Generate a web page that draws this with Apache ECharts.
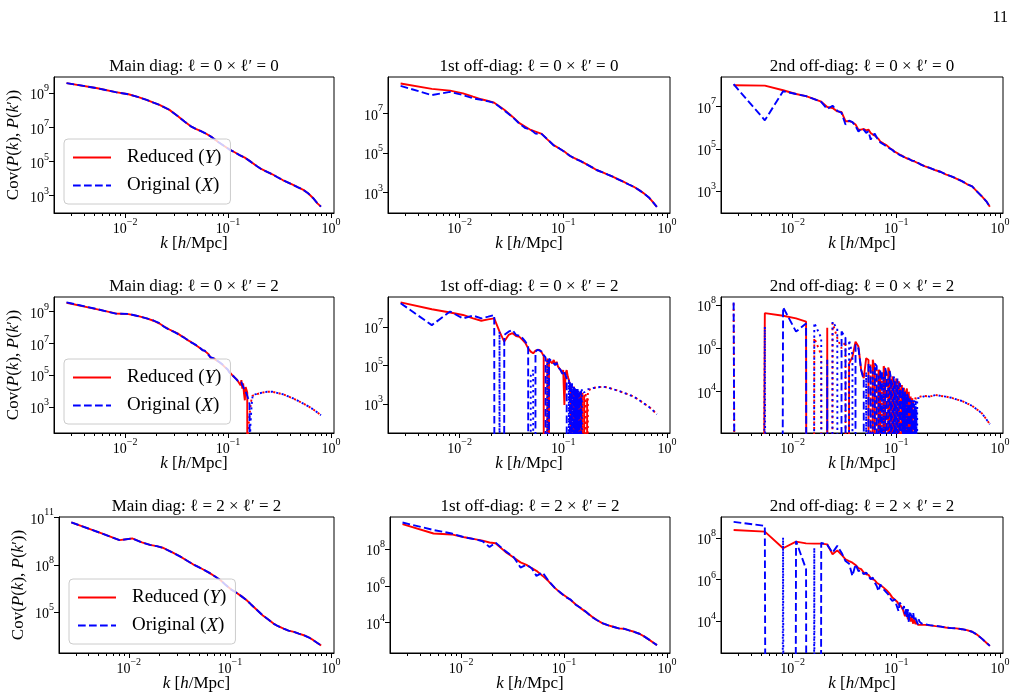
<!DOCTYPE html>
<html lang="en">
<head>
<meta charset="utf-8" />
<title>Cov(P(k), P(k')) comparison</title>
<script src="https://cdn.jsdelivr.net/npm/echarts@6.0.0/dist/echarts.min.js"></script>
<style>
html, body { margin: 0; padding: 0; background: #fff; }
#chart { width: 1022px; height: 695px; }
</style>
</head>
<body>
<div id="chart"></div>
<script type="text/javascript">
// k bins [h/Mpc]
var kCoarse = [0.0027, 0.0054, 0.0081, 0.0108, 0.0135, 0.0162, 0.0189, 0.0216, 0.027, 0.0324,
  0.0378, 0.0432, 0.0486, 0.054, 0.0621, 0.0702, 0.081, 0.0918, 0.1026, 0.1161,
  0.1296, 0.1458, 0.162, 0.19, 0.21, 0.24, 0.27, 0.3, 0.34, 0.38,
  0.43, 0.48, 0.54, 0.6, 0.67, 0.74, 0.8];
var kFine = [0.0027, 0.0054, 0.0081, 0.0108, 0.0135, 0.0162, 0.0189, 0.0216, 0.0243, 0.027,
  0.0297, 0.0324, 0.0351, 0.0378, 0.0405, 0.0432, 0.0459, 0.0486, 0.0513, 0.054,
  0.0567, 0.0594, 0.0621, 0.0648, 0.0675, 0.0702, 0.0729, 0.0756, 0.0783, 0.081,
  0.0837, 0.0864, 0.0891, 0.0918, 0.0945, 0.0972, 0.0999, 0.1026, 0.1053, 0.108,
  0.1107, 0.1134, 0.1161, 0.1188, 0.1215, 0.1242, 0.1269, 0.1296, 0.1323, 0.135,
  0.1377, 0.1404, 0.1431, 0.1458, 0.1485, 0.1512, 0.1539, 0.1566, 0.1593, 0.162,
  0.1647, 0.1674, 0.1701, 0.1728, 0.1755,
  0.19, 0.21, 0.24, 0.27, 0.3, 0.34, 0.38, 0.43, 0.48, 0.54, 0.6, 0.67, 0.74, 0.8];

// tick values
var xMajor = [0.01, 0.1, 1];
var xMinor = [0.003, 0.004, 0.005, 0.006, 0.007, 0.008, 0.009,
  0.02, 0.03, 0.04, 0.05, 0.06, 0.07, 0.08, 0.09,
  0.2, 0.3, 0.4, 0.5, 0.6, 0.7, 0.8, 0.9];

// row 1: l=0 x l'=0  (kCoarse / kFine)
var redA = [3.9e9, 1.95e9, 1.15e9, 8.7e8, 5.9e8, 4.1e8, 2.8e8, 2.1e8, 1.06e8, 4.7e7,
  2.2e7, 1.2e7, 8.2e6, 6.2e6, 4.1e6, 2.6e6, 1.35e6, 8.2e5, 5.2e5, 3.5e5,
  2.4e5, 1.7e5, 1.1e5, 5.5e4, 3.7e4, 2.5e4, 1.8e4, 1.25e4, 8.3e3, 6.1e3,
  4.3e3, 3.1e3, 2.2e3, 1.4e3, 7.4e2, 3.6e2, 2.3e2];
var blueA = [3.9e9, 1.95e9, 1.15e9, 8.7e8, 5.9e8, 4.1e8, 2.8e8, 2.1e8, 1.06e8, 4.7e7,
  2.2e7, 1.2e7, 8.2e6, 6.2e6, 4.1e6, 2.6e6, 1.35e6, 8.2e5, 5.2e5, 3.5e5,
  2.4e5, 1.7e5, 1.1e5, 5.5e4, 3.7e4, 2.5e4, 1.8e4, 1.25e4, 8.3e3, 6.1e3,
  4.3e3, 3.1e3, 2.2e3, 1.4e3, 7.4e2, 3.6e2, 2.3e2];
var redB = [3.2e8, 1.7e8, 1.4e8, 1.02e8, 6.9e7, 5.1e7, 4.2e7, 3.4e7, 1.5e7, 6.8e6,
  3.2e6, 2.1e6, 1.45e6, 1.2e6, 9.2e5, 4.9e5, 2.5e5, 1.7e5, 1.2e5, 7.1e4,
  5.4e4, 4.0e4, 3.0e4, 1.9e4, 1.4e4, 1.07e4, 8.1e3, 6.5e3, 4.7e3, 3.6e3,
  2.6e3, 2.0e3, 1.35e3, 9.3e2, 5.8e2, 3.2e2, 1.95e2];
var blueB = [2.4e8, 8.3e7, 1.2e8, 8.3e7, 5.7e7, 4.8e7, 4.0e7, 3.4e7, 1.4e7, 6.5e6,
  3.0e6, 1.8e6, 1.5e6, 9.5e5, 9.0e5, 5.0e5, 2.4e5, 1.7e5, 1.15e5, 7.3e4,
  5.2e4, 4.0e4, 3.0e4, 1.9e4, 1.4e4, 1.07e4, 8.1e3, 6.5e3, 4.7e3, 3.6e3,
  2.6e3, 2.0e3, 1.35e3, 9.3e2, 5.8e2, 3.2e2, 1.95e2];
var redC = [9.8e7, 9.4e7, 5.7e7, 3.8e7, 3.0e7, 2.2e7, 1.65e7, 9.3e6, 8.3e6, 5.8e6,
  5.4e6, 2.0e6, 2.0e6, 1.8e6, 1.4e6, 8.0e5, 8.0e5, 8.6e5, 7.4e5, 8.0e5,
  5.6e5, 4.7e5, 4.2e5, 3.6e5, 2.9e5, 2.2e5, 1.9e5, 1.75e5, 1.7e5, 1.45e5,
  1.2e5, 1.1e5, 9.8e4, 9.1e4, 8.2e4, 7.1e4, 6.3e4, 6.3e4, 5.7e4, 5.3e4,
  4.8e4, 4.8e4, 4.5e4, 4.2e4, 4.0e4, 3.7e4, 3.6e4, 3.5e4, 3.3e4, 3.1e4,
  3.0e4, 2.9e4, 2.8e4, 2.7e4, 2.6e4, 2.5e4, 2.4e4, 2.3e4, 2.2e4, 2.1e4,
  2.05e4, 2.0e4, 1.9e4, 1.85e4, 1.8e4,
  1.5e4, 1.26e4, 9.8e3, 8.1e3, 6.3e3, 5.1e3, 4.0e3, 3.0e3, 2.2e3, 1.7e3, 1.0e3, 5.8e2, 3.4e2, 1.9e2];
var blueC = [1.1e8, 2.2e6, 5.1e7, 3.8e7, 3.0e7, 2.2e7, 1.6e7, 7.5e6, 1.07e7, 6.2e6,
  4.9e6, 1.4e6, 2.1e6, 1.8e6, 1.2e6, 6.5e5, 8.6e5, 8.0e5, 5.6e5, 6.8e5,
  2.7e5, 4.5e5, 5.1e5, 3.4e5, 2.8e5, 2.0e5, 1.9e5, 1.6e5, 1.75e5, 1.3e5,
  1.25e5, 1.05e5, 1.0e5, 8.8e4, 8.4e4, 6.9e4, 6.5e4, 6.0e4, 5.8e4, 5.1e4,
  4.9e4, 4.6e4, 4.6e4, 4.1e4, 4.1e4, 3.6e4, 3.7e4, 3.4e4, 3.4e4, 3.0e4,
  3.1e4, 2.8e4, 2.9e4, 2.6e4, 2.7e4, 2.4e4, 2.5e4, 2.3e4, 2.25e4, 2.1e4,
  2.1e4, 1.95e4, 1.95e4, 1.8e4, 1.8e4,
  1.5e4, 1.26e4, 9.8e3, 8.1e3, 6.3e3, 5.1e3, 4.0e3, 3.0e3, 2.2e3, 1.7e3, 1.0e3, 5.8e2, 3.4e2, 1.9e2];

// row 2: l=0 x l'=2  (kFine, signed: negative parts drawn dotted)
var redD = [3.7e9, 1.4e9, 7.8e8, 7.1e8, 5.3e8, 3.8e8, 2.7e8, 1.8e8, 1.1e8, 7.6e7,
  5.5e7, 4.3e7, 3.0e7, 2.3e7, 1.6e7, 1.3e7, 1.0e7, 7.8e6, 6.2e6, 4.8e6,
  3.8e6, 3.4e6, 2.6e6, 2.1e6, 1.3e6, 1.3e6, 1.1e6, 9.8e5, 8.1e5, 6.9e5,
  6.0e5, 5.5e5, 4.3e5, 3.7e5, 3.0e5, 2.5e5, 2.1e5, 1.6e5, 1.4e5, 1.15e5,
  9.5e4, 8.7e4, 7.1e4, 6.2e4, 5.4e4, 4.4e4, 3.6e4, 3.0e4, 2.3e4, 4.8e4,
  1.4e4, 3.0e4, 6.9e3, 2.6e3, 1.8e4, 1.2e4, 8.0e3, -30, -1e2, -3e2,
  -8e2, -2e3, -3.5e3, -5e3, -6e3,
  -6.3e3, -7.6e3, -8.9e3, -8.9e3, -7.6e3, -6.3e3, -4.7e3, -3.4e3, -2.4e3, -1.6e3, -1.1e3, -7e2, -4.4e2, -3e2];
var blueD = [3.9e9, 1.45e9, 7.6e8, 7.3e8, 5.2e8, 3.8e8, 2.8e8, 1.9e8, 1.05e8, 7.2e7,
  5.5e7, 4.0e7, 3.0e7, 2.2e7, 1.7e7, 1.2e7, 1.0e7, 8.2e6, 6.0e6, 5.0e6,
  3.7e6, 3.5e6, 2.5e6, 2.2e6, 1.35e6, 1.25e6, 1.15e6, 9.5e5, 8.3e5, 6.7e5,
  6.2e5, 5.3e5, 4.5e5, 3.6e5, 3.1e5, 2.4e5, 2.2e5, 1.55e5, 1.45e5, 1.1e5,
  1.0e5, 8.4e4, 7.4e4, 6.0e4, 5.6e4, 4.6e4, 3.9e4, 4.2e4, 3.0e4, 3.5e4,
  2.4e4, 2.0e4, 1.4e4, 1.1e4, 9.0e3, 7.0e3, 5.0e3, 3.5e3, 2.5e3, 1.5e3,
  -50, -3e2, -1.5e3, -4e3, -6e3,
  -6.3e3, -7.6e3, -8.9e3, -8.9e3, -7.6e3, -6.3e3, -4.7e3, -3.4e3, -2.4e3, -1.6e3, -1.1e3, -7e2, -4.4e2, -3e2];
var redE = [2.0e8, 8.7e7, 5.9e7, 4.4e7, 2.9e7, 2.2e7, 2.6e7, 2.9e7, 5.9e6, 1.8e6,
  4.0e6, 4.9e6, 3.5e6, 3.2e6, 2.2e6, 1.5e6, 8.0e5, 5.4e5, 4.4e5, 6.0e5,
  6.6e5, 6.6e5, 4.8e5, 3.2e5, 2.9e5, -2.5e5, 2.0e5, 2.4e5, 1.3e5, 2.0e5,
  1.07e5, 1.6e5, 8.9e4, 7.4e4, 5.9e4, 4.0e4, 5.9e4, 9.0e2, 4.0e4, 5.9e4,
  2.7e4, 1.8e4, 1.0e4, 6.6e3, 5.4e3, -4e3, 8.0e3, 3.6e3, -3e3, 5.4e3,
  3.0e3, -4e3, 2.4e3, 4.3e3, -3e3, 3.6e3, -4e3, -5e3, 3.0e3, 2.4e3,
  -4e3, -5e3, 2.0e3, -5e3, -6e3,
  -6.6e3, -7.4e3, -8.0e3, -7.4e3, -5.9e3, -5.0e3, -3.9e3, -3.1e3, -2.4e3, -1.6e3, -1.07e3, -7.2e2, -4.5e2, -2.9e2];
var blueE = [1.8e8, 1.3e7, 6.6e7, 2.9e7, 4.1e7, 2.9e7, 3.6e7, 4.4e7, -6e6, 4.0e6,
  5.9e6, 7.3e6, 4.0e6, 3.6e6, 2.7e6, 1.8e6, 9.8e5, -3e4, -6e4, 5.4e5,
  6.9e5, 6.0e5, 5.4e5, 3.5e5, 2.7e5, -2e5, 2.3e5, 2.0e5, 1.6e5, 1.3e5,
  1.07e5, 1.4e5, 8.5e4, 8.9e4, 5.9e4, 4.9e4, 3.3e4, 4.5e4, 3.6e4, 2.2e4,
  2.7e4, -2e4, 1.5e4, -1e4, 1.2e4, -8e3, 9e3, -7e3, 6e3, -5e3,
  6e3, -5e3, 4e3, -5e3, 5e3, -6e3, -7e3, -6e3, -4e3, -5e3,
  -4.5e3, -5.5e3, -6e3, -5e3, -6e3,
  -6.6e3, -7.4e3, -8.0e3, -7.4e3, -5.9e3, -5.0e3, -3.9e3, -3.1e3, -2.4e3, -1.6e3, -1.07e3, -7.2e2, -4.5e2, -2.9e2];
var redF = [-1.2e8, 4.2e7, 3.2e7, 2.4e7, 1.7e7, -3e6, -5e5, 9e6, -1.5e7, -3e6,
  -1e6, -2e6, 2e5, 4e5, 2e6, 1.2e6, 1e5, 4.2e4, 3.5e5, 2.9e5,
  -2e5, 3e5, 1e5, -1e5, 1e5, 8e4, -5e4, 1.5e5, 1e5, -6e4,
  1.3e5, 8e4, -4e4, 5e4, 3e4, -3e4, 4e4, -2e4, 3e4, 2e4,
  -1.5e4, 2e4, -1e4, 1.5e4, -1e4, 1e4, 1.4e4, -8e3, 1e4, -6e3,
  6e3, -5e3, 5e3, -4e3, -5e3, -4.5e3, -5e3, -4.8e3, -5.2e3, -5e3,
  -5.5e3, -5.2e3, -5.8e3, -6e3, -6.2e3,
  -6.3e3, -5.9e3, -7e3, -6.3e3, -5.9e3, -5.2e3, -4.4e3, -3.7e3, -2.9e3, -2.2e3, -1.5e3, -1e3, -5.3e2, -3.1e2];
var blueF = [1.3e8, -1e7, 7.9e7, 5.9e6, 1.4e7, -1.5e7, -3e6, 3e5, -1.7e7, -8e6,
  6e6, 3e6, -2.4e6, -5e5, 1.5e6, 1e6, 1e5, 3.5e4, -8e4, 2e5,
  1.2e5, -1e5, 2e5, 1.5e5, -6e4, 1e5, 8e4, -5e4, 1.2e5, 6e4,
  -4e4, 9e4, 4e4, -3e4, 5e4, 3e4, -2e4, 4e4, -2e4, 2.5e4,
  1.5e4, -1e4, 1.5e4, -8e3, 1e4, -7e3, 8e3, 6e3, -5e3, 5e3,
  -4e3, 4e3, -4e3, 3e3, -4e3, 2e3, -4e3, 1.5e3, -5e3, -5e3,
  -5.5e3, -5e3, -5.5e3, -6e3, -6e3,
  -6.3e3, -5.9e3, -7e3, -6.3e3, -5.9e3, -5.2e3, -4.4e3, -3.7e3, -2.9e3, -2.2e3, -1.5e3, -1e3, -5.3e2, -3.1e2];

// row 3: l=2 x l'=2
var redG = [4.8e10, 9.6e9, 3.6e9, 4.6e9, 2.6e9, 1.8e9, 1.5e9, 1.2e9, 6.0e8, 3.3e8,
  1.8e8, 1.07e8, 7.3e7, 5.2e7, 3.2e7, 1.95e7, 1.04e7, 5.0e6, 2.8e6, 1.7e6,
  1.04e6, 5.9e5, 3.1e5, 1.2e5, 6.5e4, 3.5e4, 1.9e4, 1.3e4, 9.2e3, 6.9e3,
  5.7e3, 4.4e3, 3.5e3, 2.6e3, 1.7e3, 1.1e3, 7.8e2];
var blueG = [4.8e10, 9.6e9, 3.6e9, 4.6e9, 2.6e9, 1.8e9, 1.5e9, 1.2e9, 6.0e8, 3.3e8,
  1.8e8, 1.07e8, 7.3e7, 5.2e7, 3.2e7, 1.95e7, 1.04e7, 5.0e6, 2.8e6, 1.7e6,
  1.04e6, 5.9e5, 3.1e5, 1.2e5, 6.5e4, 3.5e4, 1.9e4, 1.3e4, 9.2e3, 6.9e3,
  5.7e3, 4.4e3, 3.5e3, 2.6e3, 1.7e3, 1.1e3, 7.8e2];
var redH = [2.3e9, 7.1e8, 6.3e8, 4.4e8, 3.5e8, 2.9e8, 2.3e8, 2.1e8, 7.1e7, 3.5e7,
  1.9e7, 1.4e7, 9.2e6, 6.6e6, 3.5e6, 1.9e6, 8.1e5, 4.3e5, 2.8e5, 1.7e5,
  1.0e5, 6.0e4, 4.0e4, 2.0e4, 1.35e4, 8.9e3, 7.1e3, 6.0e3, 4.9e3, 4.7e3,
  3.8e3, 3.2e3, 2.5e3, 1.8e3, 1.2e3, 8.1e2, 6.0e2];
var blueH = [2.8e9, 1.1e9, 7.1e8, 4.4e8, 3.5e8, 2.7e8, 1.3e8, 2.3e8, 7.8e7, 3.7e7,
  1.0e7, 1.4e7, 9.2e6, 3.5e6, 5.3e6, 2.0e6, 8.0e5, 4.5e5, 2.6e5, 1.8e5,
  9.5e4, 6.3e4, 4.0e4, 1.9e4, 1.35e4, 9.2e3, 7.1e3, 6.0e3, 4.9e3, 4.7e3,
  3.8e3, 3.2e3, 2.5e3, 1.8e3, 1.2e3, 8.1e2, 6.0e2];
var redI = [2.5e8, 2.1e8, 3.3e7, 6.9e7, 5.7e7, 5.5e7, 5.5e7, 5.1e7, 1.7e7, 2.6e7,
  1.6e7, 9.6e6, 7.9e6, 6.6e6, 5.1e6, 3.6e6, 3.2e6, 2.2e6, 1.8e6, 1.7e6,
  1.15e6, 1.04e6, 9.3e5, 7.1e5, 5.9e5, 5.5e5, 4.8e5, 4.1e5, 3.7e5, 3.0e5,
  2.5e5, 2.1e5, 1.7e5, 1.35e5, 1.25e5, 1.07e5, 9.3e4, 8.3e4, 6.5e4, 5.9e4,
  5.3e4, 4.4e4, 3.5e4, 3.0e4, 1.7e4, 2.8e4, 2.2e4, 1.2e4, 2.1e4, 1.7e4,
  9.3e3, 1.55e4, 1.35e4, 7.4e3, 1.2e4, 1.0e4, 6.9e3, 9.3e3, 8.3e3, 6.5e3,
  7.8e3, 6.9e3, 6.5e3, 6.9e3, 6.3e3,
  6.5e3, 6.1e3, 5.6e3, 5.3e3, 4.8e3, 4.5e3, 4.4e3, 4.0e3, 3.6e3, 3.0e3, 2.2e3, 1.4e3, 8.9e2, 6.2e2];
var blueI = [6.2e8, 4.0e8, -1.1e8, 7.4e7, 3.2e6, -3.5e7, 6.0e7, 4.8e7, 2.0e7, 4.3e7,
  2.0e7, 7.9e6, 5.9e6, 1.5e6, 5.5e6, 2.6e6, 2.8e6, 1.8e6, 2.2e6, 1.5e6,
  1.04e6, 1.26e6, 7.1e5, 4.9e5, 2.8e5, 5.9e5, 4.1e5, 3.4e5, 2.8e5, 2.3e5,
  1.95e5, 1.35e5, 1.6e5, 9.3e4, 7.8e4, 1.1e5, 6.5e4, 5.3e4, 3.0e4, 7.8e4,
  6.5e4, 5.3e4, 3.7e4, 5.3e4, 2.1e4, 4.4e4, 1.45e4, 3.7e4, 8.3e3, 3.0e4,
  2.1e4, 1.7e4, 1.45e4, 2.6e4, 1.2e4, 1.7e4, 1.45e4, 1.0e4, 1.2e4, 6.9e3,
  1.2e4, 9.3e3, 8.3e3, 8.3e3, 7.5e3,
  6.9e3, 6.3e3, 5.8e3, 5.3e3, 4.8e3, 4.5e3, 4.4e3, 4.0e3, 3.6e3, 3.0e3, 2.2e3, 1.4e3, 8.9e2, 6.2e2];

var panelTitles = [
  'Main diag: ℓ = 0 × ℓ′ = 0', '1st off-diag: ℓ = 0 × ℓ′ = 0', '2nd off-diag: ℓ = 0 × ℓ′ = 0',
  'Main diag: ℓ = 0 × ℓ′ = 2', '1st off-diag: ℓ = 0 × ℓ′ = 2', '2nd off-diag: ℓ = 0 × ℓ′ = 2',
  'Main diag: ℓ = 2 × ℓ′ = 2', '1st off-diag: ℓ = 2 × ℓ′ = 2', '2nd off-diag: ℓ = 2 × ℓ′ = 2'
];
var yTicks = [
  [1e3, 1e5, 1e7, 1e9], [1e3, 1e5, 1e7], [1e3, 1e5, 1e7],
  [1e3, 1e5, 1e7, 1e9], [1e3, 1e5, 1e7], [1e4, 1e6, 1e8],
  [1e5, 1e8, 1e11], [1e4, 1e6, 1e8], [1e4, 1e6, 1e8]
];

// layout: [left, top, width, height] of each axes box, y range
var boxes = [
  [54, 77, 280, 136], [388, 77, 282, 136], [721, 77, 282, 136],
  [54, 297, 280, 136], [388, 297, 282, 136], [721, 297, 282, 136],
  [59, 517, 275, 136], [390, 517, 280, 136], [721, 517, 282, 136]
];
var yRanges = [
  [97.7, 8.9e9], [95.5, 6.76e8], [95.5, 2.4e8],
  [22.4, 8.5e9], [30.9, 3.8e8], [123, 2.34e8],
  [263, 1.05e11], [224, 5.6e9], [282, 1.07e9]
];
var legendPos = { 0: [64, 139], 3: [64, 359], 6: [69, 579] };

var panelData = [
  [kCoarse, redA, blueA], [kCoarse, redB, blueB], [kFine, redC, blueC],
  [kFine, redD, blueD], [kFine, redE, blueE], [kFine, redF, blueF],
  [kCoarse, redG, blueG], [kCoarse, redH, blueH], [kFine, redI, blueI]
];

var SERIF = "'Liberation Serif', 'DejaVu Serif', serif";
var X_MIN = 0.00204, X_MAX = 1.0715;
var TINY = 1e-300;   // stands in for non-positive values on a log axis (clipped)

var tickRich = {
  b: { fontFamily: SERIF, fontSize: 14, color: '#000', lineHeight: 19, verticalAlign: 'bottom' },
  s: { fontFamily: SERIF, fontSize: 10, color: '#000', lineHeight: 11, verticalAlign: 'top' }
};
function powLabel(v) {
  var e = Math.round(Math.log(v) / Math.LN10);
  return '{b|10}{s|' + (e < 0 ? '\u2212' + (-e) : String(e)) + '}';
}
function positivePart(k, v) {
  return k.map(function (x, i) { return [x, v[i] > 0 ? v[i] : TINY]; });
}
function negativePart(k, v) {
  return k.map(function (x, i) { return [x, v[i] < 0 ? -v[i] : TINY]; });
}
function hasNegative(v) {
  return v.some(function (x) { return x < 0; });
}

var chart = echarts.init(document.getElementById('chart'), null, { renderer: 'canvas' });

var option = {
  animation: false,
  backgroundColor: '#ffffff',
  textStyle: { fontFamily: SERIF },
  title: [{
    text: '11', right: 14, top: 10, padding: 0,
    textStyle: { fontFamily: SERIF, fontSize: 16, fontWeight: 'normal', color: '#000' }
  }],
  legend: [],
  grid: [],
  xAxis: [],
  yAxis: [],
  series: []
};

function addLine(p, name, data, color, dash) {
  option.series.push({
    type: 'line', name: name,
    xAxisIndex: 2 * p, yAxisIndex: p,
    data: data,
    symbol: 'none', showSymbol: false, legendIcon: 'none',
    clip: true, silent: true,
    lineStyle: { color: color, width: 1.9, type: dash, cap: 'butt' },
    itemStyle: { color: color },
    emphasis: { disabled: true }
  });
}

boxes.forEach(function (b, p) {
  var col = p % 3;
  option.grid.push({
    left: b[0], top: b[1], width: b[2], height: b[3],
    show: true, borderColor: '#000', borderWidth: 1,
    backgroundColor: 'rgba(0,0,0,0)', containLabel: false, outerBoundsMode: 'none'
  });
  option.title.push({
    text: panelTitles[p], left: b[0] + b[2] / 2, top: b[1] - 10.5,
    textAlign: 'center', textVerticalAlign: 'middle', padding: 0,
    textStyle: { fontFamily: SERIF, fontSize: 17, fontWeight: 'normal', color: '#000' }
  });
  // major x ticks + labels
  option.xAxis.push({
    type: 'log', logBase: 10, gridIndex: p, min: X_MIN, max: X_MAX, position: 'bottom',
    axisLine: { show: true, onZero: false, lineStyle: { color: '#000', width: 1 } },
    axisTick: { show: true, length: 5, customValues: xMajor, lineStyle: { color: '#000', width: 1 } },
    axisLabel: { show: true, customValues: xMajor, formatter: powLabel, rich: tickRich, margin: 4, color: '#000' },
    splitLine: { show: false }, minorTick: { show: false },
    name: '{i|k} [{i|h}/Mpc]', nameLocation: 'middle', nameGap: 22, nameMoveOverlap: false,
    nameTextStyle: {
      fontFamily: SERIF, fontSize: 17, color: '#000',
      rich: { i: { fontFamily: SERIF, fontSize: 17, fontStyle: 'italic', color: '#000' } }
    }
  });
  // minor x ticks
  option.xAxis.push({
    type: 'log', logBase: 10, gridIndex: p, min: X_MIN, max: X_MAX, position: 'bottom',
    axisLine: { show: false },
    axisTick: { show: true, length: 3, customValues: xMinor, lineStyle: { color: '#000', width: 1 } },
    axisLabel: { show: false }, splitLine: { show: false }
  });
  var yAxis = {
    type: 'log', logBase: 10, gridIndex: p, min: yRanges[p][0], max: yRanges[p][1],
    axisLine: { show: true, onZero: false, lineStyle: { color: '#000', width: 1 } },
    axisTick: { show: true, length: 5, customValues: yTicks[p], lineStyle: { color: '#000', width: 1 } },
    axisLabel: { show: true, customValues: yTicks[p], formatter: powLabel, rich: tickRich, margin: 5, color: '#000' },
    splitLine: { show: false }, minorTick: { show: false }
  };
  if (col === 0) {
    yAxis.name = 'Cov({i|P}({i|k}), {i|P}({i|k}′))';
    yAxis.nameLocation = 'middle';
    yAxis.nameGap = 32;
    yAxis.nameMoveOverlap = false;
    yAxis.nameTextStyle = {
      fontFamily: SERIF, fontSize: 17, color: '#000',
      rich: { i: { fontFamily: SERIF, fontSize: 17, fontStyle: 'italic', color: '#000' } }
    };
  }
  option.yAxis.push(yAxis);

  var d = panelData[p];
  addLine(p, 'Reduced (Y)', positivePart(d[0], d[1]), '#ff0000', 'solid');
  if (hasNegative(d[1])) addLine(p, 'Reduced (Y) neg', negativePart(d[0], d[1]), '#ff0000', [2.1, 3.4]);
  addLine(p, 'Original (X)', positivePart(d[0], d[2]), '#0000ff', [7.7, 3.3]);
  if (hasNegative(d[2])) addLine(p, 'Original (X) neg', negativePart(d[0], d[2]), '#0000ff', [2.1, 3.4]);

  if (legendPos[p]) {
    option.legend.push({
      data: ['Reduced (Y)', 'Original (X)'],
      orient: 'vertical', left: legendPos[p][0], top: legendPos[p][1],
      itemWidth: 38, itemHeight: 14, itemGap: 9,
      padding: [9, 9, 9, 8],
      borderColor: '#cccccc', borderWidth: 1, borderRadius: 4,
      backgroundColor: 'rgba(255,255,255,0.8)',
      selectedMode: false,
      itemStyle: { opacity: 0 },
      lineStyle: { opacity: 1 },
      formatter: function (name) {
        return name === 'Reduced (Y)' ? '{g| }Reduced ({i|Y})' : '{g| }Original ({i|X})';
      },
      textStyle: {
        fontFamily: SERIF, fontSize: 19, color: '#000',
        rich: {
          g: { width: 11, fontSize: 19 },
          i: { fontFamily: SERIF, fontSize: 19, fontStyle: 'italic', color: '#000' }
        }
      }
    });
  }
});

chart.setOption(option);
</script>
</body>
</html>
